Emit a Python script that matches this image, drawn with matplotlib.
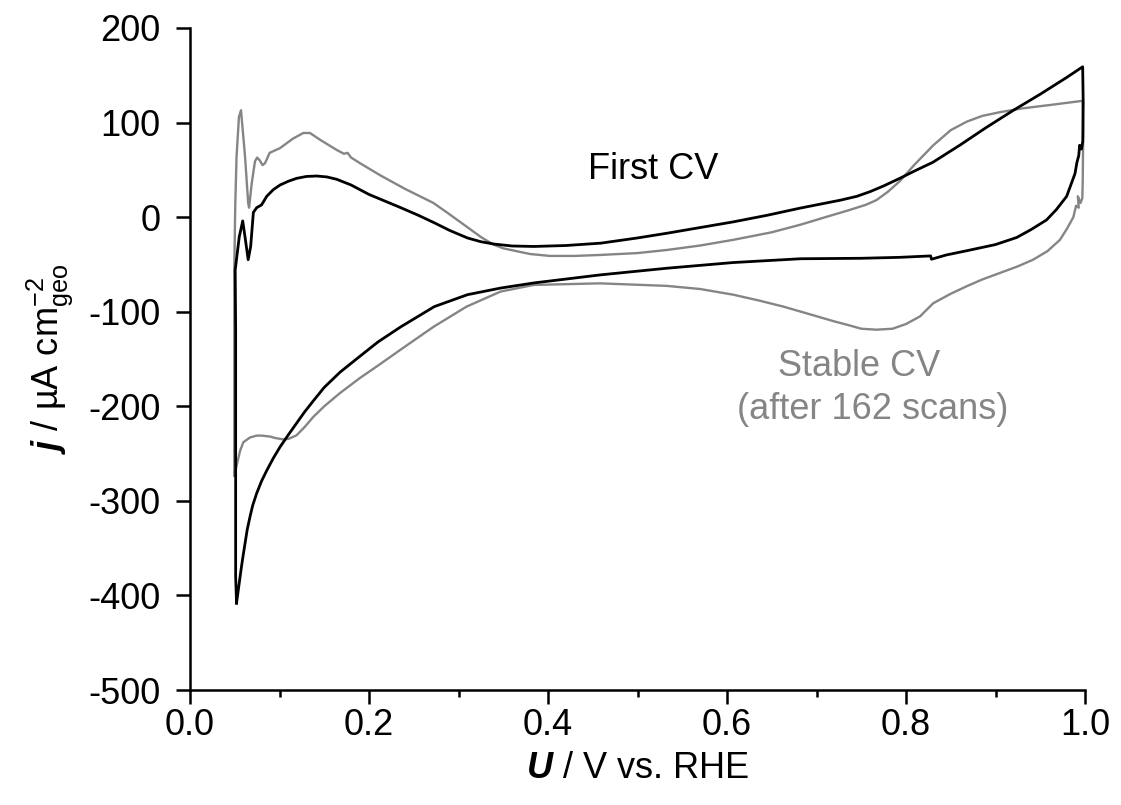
import numpy as np
import matplotlib
matplotlib.use('Agg')
from matplotlib import pyplot as plt
from matplotlib.ticker import MultipleLocator, FormatStrFormatter

# First CV (black), anodic sweep then cathodic sweep
first_u = [0.052, 0.051, 0.051, 0.051, 0.051, 0.0505, 0.055, 0.0589, 0.0615, 0.065,
           0.0678, 0.0708, 0.0745, 0.080, 0.0857, 0.093, 0.1006, 0.11, 0.119, 0.13,
           0.1415, 0.153, 0.164, 0.18, 0.20, 0.2355, 0.255, 0.273, 0.29, 0.31,
           0.325, 0.34, 0.36, 0.384, 0.42, 0.459, 0.50, 0.533, 0.57, 0.607,
           0.645, 0.682, 0.727, 0.745, 0.76, 0.775, 0.793, 0.81, 0.83, 0.86,
           0.89, 0.92, 0.95, 0.98, 0.9974, 0.998, 0.9975, 0.996, 0.994, 0.993,
           0.991, 0.9888, 0.9795, 0.968, 0.957, 0.94, 0.9237, 0.90, 0.868, 0.845,
           0.8285, 0.8275, 0.793, 0.75, 0.682, 0.607, 0.533, 0.459, 0.384, 0.347,
           0.31, 0.273, 0.2355, 0.21, 0.19, 0.1676, 0.15, 0.138, 0.128, 0.119,
           0.11, 0.1006, 0.093, 0.0857, 0.08, 0.0745, 0.07, 0.067, 0.064, 0.0615,
           0.059, 0.057, 0.054, 0.052]
first_j = [-408, -380, -300, -200, -120, -56, -21, -4, -21, -45,
           -31, 5, 10, 13, 22, 29, 34, 38, 41, 43,
           43.5, 42.5, 40, 34, 24, 10, 2, -6, -14, -22,
           -26, -28.5, -30.5, -31, -30, -27.5, -22, -17, -11, -5,
           2, 9.6, 18, 22, 27, 33, 41, 49, 58, 76,
           95, 113, 130, 148, 159, 120, 80, 72, 76, 65,
           58, 46, 22, 8, -3, -13, -21.5, -29, -35.5, -40,
           -44.5, -41, -42.5, -43.5, -44, -48, -54, -61, -69.6, -75,
           -82, -94.6, -116, -132, -147, -164, -180, -194, -206, -218,
           -230, -243, -255, -268, -279, -292, -305, -317, -330, -345,
           -360, -373, -394, -408]

# Stable CV after 162 scans (grey)
stable_u = [0.0495, 0.0495, 0.0495, 0.0495, 0.0505, 0.052, 0.0547, 0.057, 0.0615, 0.065,
            0.066, 0.069, 0.0726, 0.075, 0.078, 0.081, 0.0838, 0.089, 0.1006, 0.115,
            0.1266, 0.134, 0.145, 0.164, 0.172, 0.176, 0.18, 0.19, 0.213, 0.24,
            0.272, 0.29, 0.309, 0.325, 0.339, 0.35, 0.365, 0.38, 0.402, 0.43,
            0.458, 0.50, 0.533, 0.57, 0.607, 0.65, 0.682, 0.71, 0.737, 0.755,
            0.767, 0.78, 0.793, 0.81, 0.8305, 0.85, 0.868, 0.885, 0.905, 0.93,
            0.961, 0.9974, 0.998, 0.9975, 0.997, 0.995, 0.992, 0.993, 0.990, 0.987,
            0.98, 0.972, 0.958, 0.942, 0.925, 0.905, 0.885, 0.868, 0.85, 0.8305,
            0.8156, 0.80, 0.785, 0.767, 0.75, 0.735, 0.719, 0.69, 0.663, 0.635,
            0.607, 0.57, 0.533, 0.458, 0.384, 0.347, 0.309, 0.272, 0.2355, 0.21,
            0.19, 0.1676, 0.15, 0.138, 0.128, 0.119, 0.11, 0.104, 0.095, 0.0894,
            0.08, 0.0745, 0.067, 0.0596, 0.056, 0.054, 0.0495]
stable_j = [-273, -250, -150, -56, 10, 64, 106, 113, 64, 15,
            10, 36, 59, 63, 60, 55, 57, 68, 73, 83,
            89, 89, 82, 71, 67, 68, 63, 57, 44, 30,
            15, 3, -10, -21, -29, -33, -36, -39, -41, -41,
            -40, -38, -34.7, -30, -24, -16, -8, 0, 7.6, 13,
            18, 27, 38, 56, 76, 92, 101, 107, 111, 115,
            118.6, 123, 90, 40, 20, 15, 22, 10, 12, 0,
            -12, -24, -36, -45, -52, -59, -66, -73, -81, -91,
            -105, -113, -118, -119, -118, -114, -110, -102, -94.6, -88,
            -82, -76, -72.7, -70, -71.7, -78.7, -94.6, -116, -140, -157,
            -170, -186, -200, -211, -222, -230.7, -234.5, -235, -233.5, -232,
            -231, -231, -233, -238, -247, -255, -273]

plt.rcParams['font.family'] = ['Liberation Sans', 'DejaVu Sans']
plt.rcParams['mathtext.fontset'] = 'custom'
plt.rcParams['mathtext.rm'] = 'Liberation Sans'
plt.rcParams['mathtext.it'] = 'Liberation Sans:italic'
plt.rcParams['mathtext.bf'] = 'Liberation Sans:italic:bold'
plt.rcParams['axes.unicode_minus'] = False

grey = '#858585'

fig = plt.figure(figsize=(11.21, 8.05), dpi=100)
ax = fig.add_axes([190 / 1121, 1 - 690 / 805, 895 / 1121, 662 / 805])

ax.plot(stable_u, stable_j, color=grey, lw=1.7)
ax.plot(first_u, first_j, color='black', lw=2.0)

ax.set_xlim(0, 1.0)
ax.set_ylim(-500, 200)
ax.xaxis.set_major_locator(MultipleLocator(0.2))
ax.xaxis.set_minor_locator(MultipleLocator(0.1))
ax.xaxis.set_major_formatter(FormatStrFormatter('%.1f'))
ax.yaxis.set_major_locator(MultipleLocator(100))

for s in ['top', 'right']:
    ax.spines[s].set_visible(False)
for s in ['left', 'bottom']:
    ax.spines[s].set_linewidth(1.8)

ax.tick_params(which='major', direction='out', length=10, width=1.8, labelsize=26)
ax.tick_params(which='minor', direction='out', length=5, width=1.8)
ax.tick_params(axis='x', which='major', pad=3)
ax.tick_params(axis='y', which='major', pad=11)

ax.set_xlabel(r'$\mathbf{U}$ / V vs. RHE', fontsize=26, labelpad=6)
ax.set_ylabel(r'$\mathbf{j}$ / µA cm$^{-2}_{\mathrm{geo}}$', fontsize=26, labelpad=10)

ax.text(0.518, 50, 'First CV', fontsize=26, ha='center', va='center', color='black')
ax.text(0.7475, -158, 'Stable CV', fontsize=26, ha='center', va='center', color=grey)
ax.text(0.763, -203, '(after 162 scans)', fontsize=26, ha='center', va='center', color=grey)

fig.savefig('out.png', dpi=100)
